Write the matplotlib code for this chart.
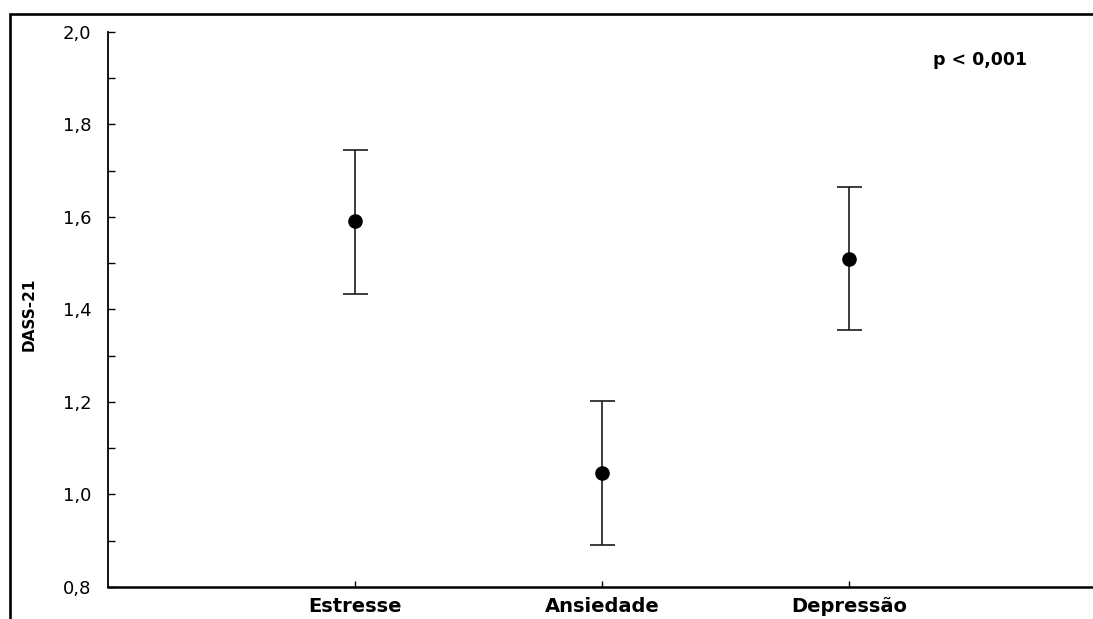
import matplotlib
matplotlib.use("Agg")
import matplotlib.pyplot as plt
from matplotlib.patches import Rectangle
from matplotlib.ticker import MultipleLocator, FuncFormatter

categories = ["Estresse", "Ansiedade", "Depressão"]
means = [1.590, 1.047, 1.508]
lower = [1.434, 0.891, 1.355]
upper = [1.745, 1.203, 1.665]
y_label = "DASS-21"
annotation = "p < 0,001"

plt.rcParams['font.family'] = ['DejaVu Sans']

W, H = 1093, 619
fig = plt.figure(figsize=(W / 100, H / 100), dpi=100)
fig.patch.set_facecolor("white")

# outer frame (cropped at right and bottom)
fig.patches.append(Rectangle((10 / W, -0.1), 1.2, 0.1 + (1 - 14 / H),
                             transform=fig.transFigure, fill=False,
                             edgecolor="black", linewidth=1.9, zorder=0))

left, right = 108 / W, 1096 / W
bottom, top = 1 - 587 / H, 1 - 31.7 / H
ax = fig.add_axes([left, bottom, right - left, top - bottom])

x = list(range(1, len(categories) + 1))
yerr = [[m - l for m, l in zip(means, lower)], [u - m for m, u in zip(means, upper)]]
ax.errorbar(x, means, yerr=yerr, fmt="o", color="black", ecolor="#1a1a1a",
            elinewidth=1.2, capsize=9, capthick=1.2, markersize=9.5, zorder=3)

ax.set_xlim(0, 4)
ax.set_ylim(0.8, 2.0)
ax.set_xticks(x)
ax.set_xticklabels(categories, fontsize=14, fontweight="bold")
ax.yaxis.set_major_locator(MultipleLocator(0.2))
ax.yaxis.set_minor_locator(MultipleLocator(0.1))
ax.yaxis.set_major_formatter(FuncFormatter(lambda v, p: f"{v:.1f}".replace(".", ",")))
ax.tick_params(axis="y", which="both", direction="in", length=5, width=1, labelsize=13, pad=12)
ax.tick_params(axis="x", which="both", direction="in", length=4, width=1, pad=7)

for s in ["top", "right"]:
    ax.spines[s].set_visible(False)
ax.spines["left"].set_linewidth(1.3)
ax.spines["bottom"].set_linewidth(1.8)

ax.set_ylabel(y_label, fontsize=11, fontweight="bold")
ax.yaxis.set_label_coords((37 - 108) / (1096 - 108), (1.39 - 0.8) / 1.2)

ax.text(980 / W, 1 - 60 / H, annotation, transform=fig.transFigure, ha="center", va="center",
        fontsize=12.5, fontweight="bold")

fig.savefig("out.png", dpi=100, facecolor="white")
